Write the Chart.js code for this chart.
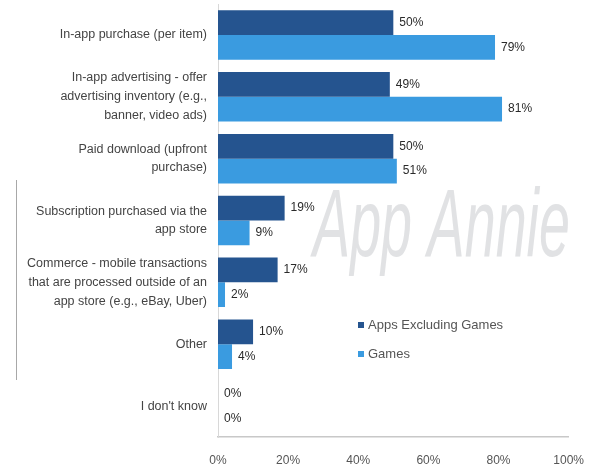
<!DOCTYPE html>
<html lang="en">
<head>
    <meta charset="UTF-8"/>
    <title>Monetization Methods</title>
    <style>
        html, body {
            margin: 0;
            padding: 0;
            background: #fff;
            overflow: hidden;
        }

        #wrap {
            position: relative;
            width: 600px;
            height: 469px;
        }
    </style>
    <script src="https://cdn.jsdelivr.net/npm/chart.js@4/dist/chart.umd.min.js"></script>
</head>
<body>
<div id="wrap">
    <canvas id="chart"></canvas>
</div>

<script>
    // Data
    const categories = [
        ['In-app purchase (per item)'],
        ['In-app advertising - offer', 'advertising inventory (e.g.,', 'banner, video ads)'],
        ['Paid download (upfront', 'purchase)'],
        ['Subscription purchased via the', 'app store'],
        ['Commerce - mobile transactions', 'that are processed outside of an', 'app store (e.g., eBay, Uber)'],
        ['Other'],
        ["I don't know"]
    ];
    const seriesNames = ['Apps Excluding Games', 'Games'];
    const appsExGames = [50, 49, 50, 19, 17, 10, 0];
    const games = [79, 81, 51, 9, 2, 4, 0];
    const xTicks = [0, 20, 40, 60, 80, 100];

    const DARK = '#25548f';
    const LIGHT = '#3a9be0';
    const FONT = '"Liberation Sans", Arial, sans-serif';

    // Watermark behind the bars, plus the stray rule on the far left
    const backdrop = {
        id: 'backdrop',
        beforeDatasetsDraw(chart) {
            const c = chart.ctx;
            c.save();
            c.strokeStyle = '#a8a8a8';
            c.lineWidth = 1;
            c.beginPath();
            c.moveTo(16.5, 180);
            c.lineTo(16.5, 380);
            c.stroke();

            c.translate(313, 256);
            c.scale(0.58, 1);
            c.font = 'italic 96px ' + FONT;
            c.fillStyle = 'rgba(205,206,210,0.6)';
            c.textBaseline = 'alphabetic';
            c.fillText('App Annie', 0, 0);
            c.restore();
        }
    };

    // Value labels at bar ends and the legend box
    const annotate = {
        id: 'annotate',
        afterDatasetsDraw(chart) {
            const c = chart.ctx;
            c.save();
            c.font = '12px ' + FONT;
            c.fillStyle = '#2a2a2a';
            c.textBaseline = 'middle';
            c.textAlign = 'left';
            chart.data.datasets.forEach((ds, i) => {
                chart.getDatasetMeta(i).data.forEach((bar, j) => {
                    c.fillText(ds.data[j] + '%', bar.x + 6, bar.y);
                });
            });

            const lx = 358, ly = [325, 354];
            c.font = '13px ' + FONT;
            chart.data.datasets.forEach((ds, i) => {
                c.fillStyle = ds.backgroundColor;
                c.fillRect(lx, ly[i] - 3, 6, 6);
                c.fillStyle = '#555';
                c.fillText(ds.label, lx + 10, ly[i]);
            });
            c.restore();
        }
    };

    const ctx = document.getElementById('chart').getContext('2d');
    const chart = new Chart(ctx, {
        type: 'bar',
        data: {
            labels: categories,
            datasets: [
                {label: seriesNames[0], data: appsExGames, backgroundColor: DARK},
                {label: seriesNames[1], data: games, backgroundColor: LIGHT}
            ]
        },
        options: {
            indexAxis: 'y',
            animation: false,
            responsive: true,
            maintainAspectRatio: false,
            datasets: {
                bar: {categoryPercentage: 0.8, barPercentage: 1.0}
            },
            layout: {padding: {top: 4, right: 30, bottom: 0, left: 0}},
            scales: {
                x: {
                    min: 0,
                    max: 100,
                    afterBuildTicks: axis => {
                        axis.ticks = xTicks.map(v => ({value: v}));
                    },
                    afterFit: axis => {
                        axis.height = 32;
                    },
                    grid: {display: false, drawTicks: false},
                    border: {display: true, color: '#c8c8c8', width: 1.5},
                    ticks: {
                        padding: 16,
                        color: '#555',
                        font: {family: FONT, size: 12},
                        callback: v => v + '%'
                    }
                },
                y: {
                    afterFit: axis => {
                        axis.width = 218;
                        axis.paddingTop = 0;
                        axis.paddingBottom = 0;
                    },
                    grid: {display: false, drawTicks: false},
                    border: {display: true, color: '#d8d8d8', width: 1},
                    ticks: {
                        autoSkip: false,
                        padding: 11,
                        color: '#444',
                        font: {family: FONT, size: 12.5, lineHeight: 1.5}
                    }
                }
            },
            plugins: {
                legend: {display: false},
                tooltip: {enabled: false}
            }
        },
        plugins: [backdrop, annotate]
    });
</script>
</body>
</html>
